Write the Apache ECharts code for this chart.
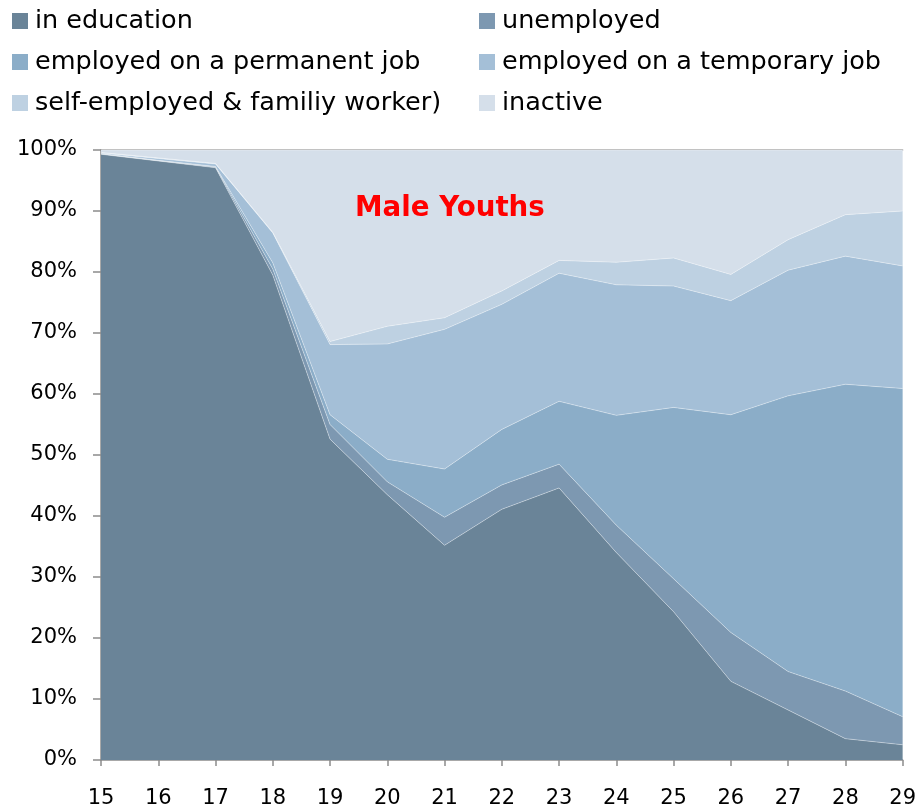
<!DOCTYPE html>
<html><head><meta charset="utf-8">
<script src="https://cdn.jsdelivr.net/npm/echarts@6/dist/echarts.min.js"></script>
<style>html,body{margin:0;padding:0;background:#fff}#c{width:919px;height:809px}</style>
</head><body><div id="c"></div>
<script>
const ages = ['15','16','17','18','19','20','21','22','23','24','25','26','27','28','29'];
const seriesNames = ['in education','unemployed','employed on a permanent job','employed on a temporary job','self-employed & familiy worker)','inactive'];
const inEducation = [99.3, 98.2, 97.1, 79.5, 52.6, 43.5, 35.2, 41.1, 44.6, 34.0, 24.3, 12.9, 8.2, 3.5, 2.5];
const unemployed  = [0.05, 0.05, 0.1, 1.0, 2.4, 2.1, 4.6, 4.0, 3.9, 4.5, 5.4, 8.0, 6.3, 7.8, 4.6];
const permanent   = [0.05, 0.05, 0.1, 1.0, 1.6, 3.7, 7.9, 9.1, 10.3, 18.0, 28.1, 35.7, 45.2, 50.3, 53.8];
const temporary   = [0.1, 0.3, 0.4, 4.9, 11.5, 18.9, 22.9, 20.5, 21.0, 21.4, 19.9, 18.7, 20.6, 21.0, 20.1];
const selfEmployed= [0.1, 0.1, 0.1, 0.1, 0.5, 2.9, 1.9, 2.2, 2.1, 3.7, 4.6, 4.3, 5.0, 6.8, 9.0];
const inactive    = [0.4, 1.3, 2.2, 13.5, 31.4, 28.9, 27.5, 23.1, 18.1, 18.4, 17.7, 20.4, 14.7, 10.6, 10.0];
const yTicks = [0,10,20,30,40,50,60,70,80,90,100];
const titleText = 'Male Youths';

const values = [inEducation, unemployed, permanent, temporary, selfEmployed, inactive];
const colors = ['#6a8498','#7d98b1','#8badc8','#a4bfd7','#bed1e2','#d5dfea'];
const FONT = 'DejaVu Sans';

const chart = echarts.init(document.getElementById('c'), null, {renderer:'canvas'});
const legendCommon = {
  orient:'vertical', itemWidth:16, itemHeight:16, itemGap:15, icon:'rect',
  textStyle:{fontFamily:FONT, fontSize:25.5, lineHeight:26, color:'#000', padding:[0,0,0,2]},
  selectedMode:false
};
chart.setOption({
  animation:false,
  color: colors,
  title:{text:titleText, left:350, top:190, textStyle:{fontFamily:FONT, fontWeight:'bold', fontSize:27.7, color:'#ff0000'}},
  legend:[
    Object.assign({left:7, top:3, data:[seriesNames[0],seriesNames[2],seriesNames[4]]}, legendCommon),
    Object.assign({left:474, top:3, data:[seriesNames[1],seriesNames[3],seriesNames[5]]}, legendCommon)
  ],
  grid:{left:101, right:13, top:150, bottom:47},
  xAxis:[{
    type:'category', data:ages, boundaryGap:false,
    axisLine:{lineStyle:{color:'#8c8c8c', width:1.5}},
    axisTick:{alignWithLabel:true, length:6, lineStyle:{color:'#8c8c8c', width:1.5}},
    axisLabel:{fontFamily:FONT, fontSize:21, color:'#000', margin:28}
  },{
    type:'category', data:ages, boundaryGap:false, position:'top',
    axisLine:{show:true, lineStyle:{color:'#a6a6a6', width:1.5}},
    axisTick:{show:false}, axisLabel:{show:false}
  }],
  yAxis:{
    type:'value', min:0, max:100, interval:10,
    axisLine:{show:true, lineStyle:{color:'#8c8c8c', width:1.5}},
    axisTick:{show:true, length:8, lineStyle:{color:'#8c8c8c', width:1.5}},
    splitLine:{show:false},
    axisLabel:{fontFamily:FONT, fontSize:21, color:'#000', margin:24, formatter:v=>v+'%'}
  },
  series: seriesNames.map((n,i)=>({
    name:n, type:'line', stack:'total', data:values[i], symbol:'none', smooth:false,
    lineStyle:{width:0.8, color:'rgba(255,255,255,0.45)'},
    areaStyle:{color:colors[i], opacity:1},
    itemStyle:{color:colors[i]},
    z: 2
  }))
});
</script></body></html>
